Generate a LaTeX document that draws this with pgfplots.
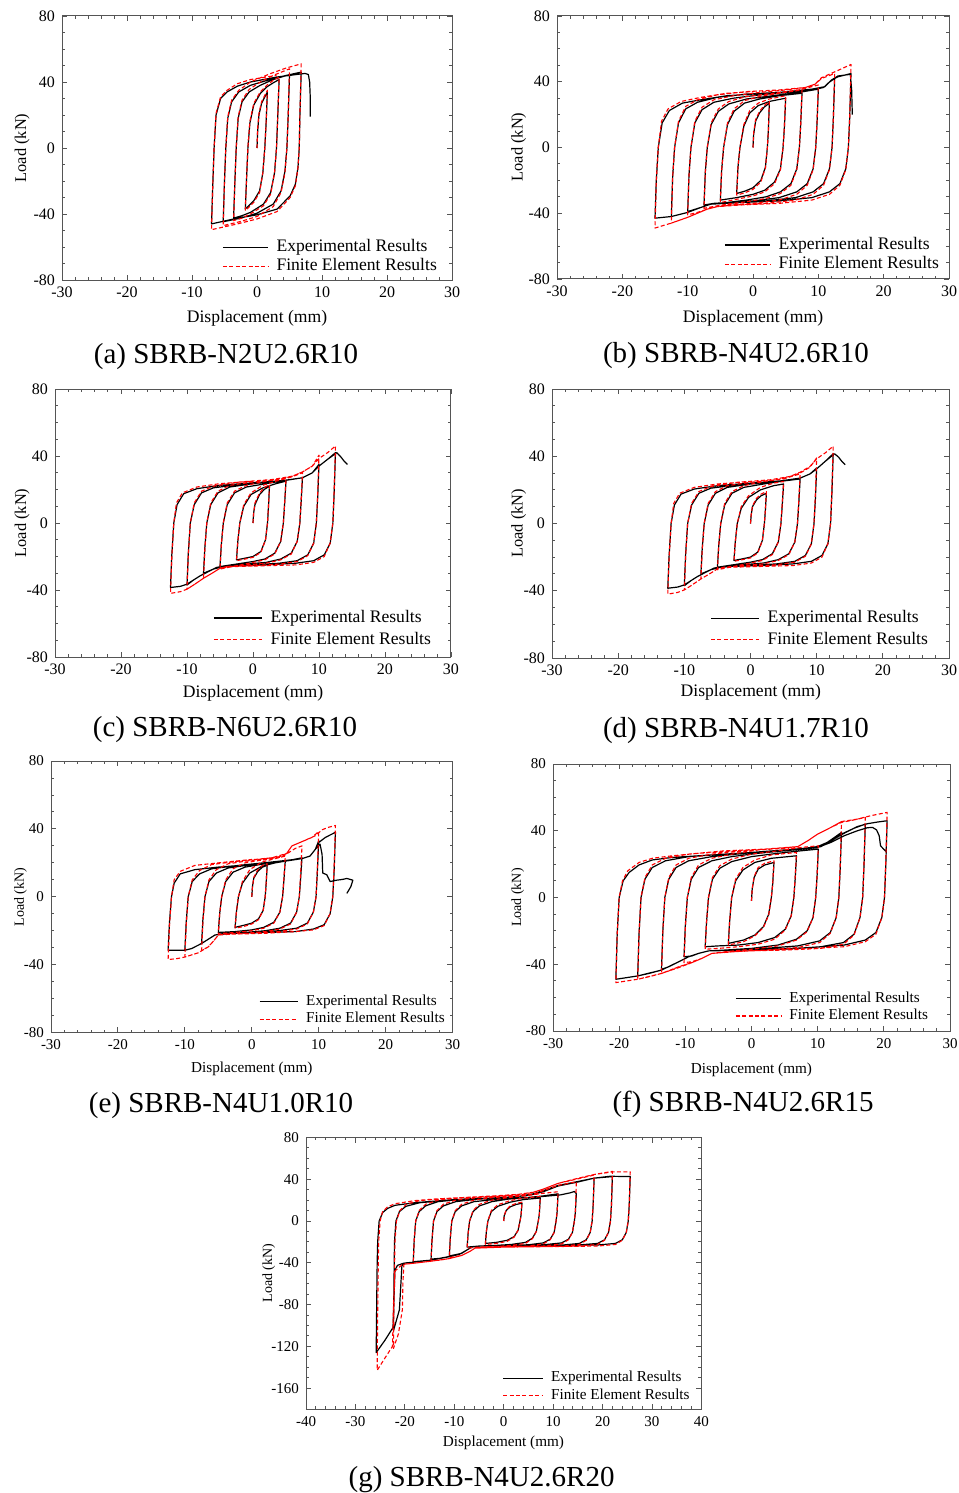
\documentclass[border=0pt]{standalone}
\usepackage{fontspec}
\setmainfont{Liberation Serif}
\usepackage{pgfplots}
\pgfplotsset{compat=1.18}
\definecolor{framegray}{RGB}{85,85,85}
\pgfplotsset{
  hyst/.style={
    scale only axis, anchor=north west,
    xmin=-30,xmax=30,ymin=-80,ymax=80,
    xtick={-30,-20,...,30}, ytick={-80,-40,0,40,80},
    minor x tick num=4, minor y tick num=3,
    axis line style={framegray, line width=0.5pt},
    every tick/.style={framegray, line width=0.45pt},
    major tick length=2.6pt, minor tick length=1.5pt,
    tick align=inside,
    /pgf/number format/assume math mode=true,
    ticklabel style={font=\fontsize{8}{9}\selectfont},
    legend cell align=left,
    legend style={draw=none, fill=none, anchor=south west, inner xsep=0pt, inner ysep=0pt,
      row sep=0pt, nodes={inner sep=1pt, text depth=0.15em},
      /tikz/every odd column/.append style={column sep=3pt},
      font=\fontsize{8.8}{10}\selectfont},
  },
  small/.style={
    ticklabel style={font=\fontsize{7.5}{8.5}\selectfont},
    legend style={font=\fontsize{7.6}{8.6}\selectfont},
  },
  exps/.style={black, line width=0.6pt, line join=round},
  fes/.style={red, line width=0.55pt, dash pattern=on 2pt off 1.2pt, line join=round},
}
\newcommand{\lab}{\fontsize{8.8}{10}\selectfont}
\newcommand{\ylab}{\fontsize{8.2}{10}\selectfont}
\newcommand{\labs}{\fontsize{7.6}{9}\selectfont}
\newcommand{\ylabs}{\fontsize{7}{9}\selectfont}
\newcommand{\capf}{\fontsize{14.5}{16}\selectfont}
\begin{document}
\begin{tikzpicture}
\useasboundingbox (0,0) rectangle (479pt,-746.5pt);
% ---------------- (a)
\begin{axis}[hyst, at={(31pt,-8pt)}, width=195pt, height=132pt,
  legend style={at={(rel axis cs:0.41,0.014)}},
  legend image code/.code={\draw[#1] (0pt,0pt) -- (22.5pt,0pt);}]
\addplot[exps] coordinates {
(0,0)(0.1,10)(0.3,20)(0.7,27)(1.2,31)(1.6,34)
(1.4,15)(1.2,0)(0.9,-15)(0.4,-26)(-0.5,-32)(-1.8,-37)
(-1.6,-18)(-1.4,0)(-1.1,15)(-0.5,26)(0.5,33)(1.5,37)(2.5,39.5)(3.4,41.5)
(3.2,20)(3.0,0)(2.7,-15)(2.1,-27)(1,-34)(-1,-39)(-2.3,-41)(-3.6,-42.5)
(-3.4,-20)(-3.2,0)(-2.9,18)(-2.3,28)(-1.2,34)(0.5,38)(2.5,41.5)(5.0,44.5)
(4.8,20)(4.6,0)(4.3,-14)(3.7,-26)(2.5,-34)(0,-39.5)(-2.5,-42.5)(-5.2,-44.7)
(-5.0,-20)(-4.8,0)(-4.5,18)(-3.9,28)(-2.8,34)(-1,38)(2,41.5)(4.5,44)(6.8,46)
(6.6,20)(6.5,0)(6.3,-12)(5.9,-22)(5.1,-29)(3.1,-37)(0,-40.5)(-3,-42.5)(-7,-46)
(-6.8,-22)(-6.6,0)(-6.3,20)(-5.6,30)(-4.6,34)(-3,37.5)(-1,40)(3,43)(6,44.5)(7.4,45.2)(7.9,44.5)(8.1,40)(8.2,30)(8.2,19)
};
\addlegendentry{Experimental Results}
\addplot[fes] coordinates {
(0,0)(0.1,12)(0.3,21)(0.7,28)(1.2,32)(1.6,35)
(1.4,15)(1.2,0)(0.9,-15)(0.4,-27)(-0.5,-33)(-1.8,-38)
(-1.6,-18)(-1.4,0)(-1.1,16)(-0.5,27)(0.5,34)(1.5,38)(2.5,41)(3.4,43)
(3.2,20)(3.0,0)(2.7,-15)(2.1,-28)(1,-35)(-1,-40)(-2.3,-42.5)(-3.6,-44)
(-3.4,-20)(-3.2,0)(-2.9,19)(-2.3,29)(-1.2,35.5)(0.5,40)(2.5,44)(5.0,48)
(4.8,20)(4.6,0)(4.3,-15)(3.7,-27)(2.5,-35.5)(0,-41.5)(-2.5,-44.5)(-5.2,-47)
(-5.0,-20)(-4.8,0)(-4.5,19)(-3.9,29)(-2.8,35)(-1,40)(2,45)(4.5,48.5)(6.8,51)
(6.6,20)(6.5,0)(6.3,-12)(5.9,-23)(5.1,-30)(3.1,-38.5)(0,-43)(-3,-46)(-7,-49.5)
(-6.8,-22)(-6.6,0)(-6.3,21)(-5.6,31)(-4.6,35)(-3,39)(-1,41.5)(3,44)
};
\addlegendentry{Finite Element Results}
\end{axis}
\node[anchor=base,font=\lab] at (128.5pt,-161pt) {Displacement (mm)};
\node[anchor=base,rotate=90,font=\ylab] at (13pt,-74pt) {Load (kN)};
\node[anchor=base,font=\capf] at (113pt,-181.5pt) {(a) SBRB-N2U2.6R10};
% ---------------- (b)
\begin{axis}[hyst, at={(278.5pt,-8pt)}, width=196pt, height=131.5pt,
  legend style={at={(rel axis cs:0.426,0.018)}},
  legend image code/.code={\draw[#1] (0pt,0pt) -- (22.5pt,0pt);}]
\addplot[exps] coordinates {
(0,0)(0.1,8)(0.4,16)(1,21)(1.7,24.5)(2.5,27)
(2.35,10)(2.2,0)(1.9,-12)(1.2,-20)(0,-24.5)(-1.2,-26.5)(-2.5,-28)
(-2.3,-12)(-2.0,0)(-1.4,13)(-0.5,21)(0.8,25.5)(2.5,28)(5,30)
(4.8,12)(4.6,0)(4.2,-13)(3.3,-21)(1.8,-26)(0,-28.5)(-2.5,-30.5)(-5,-32)
(-4.8,-14)(-4.5,0)(-3.9,14)(-2.9,22)(-1.3,27)(1,29.5)(4,31.5)(7.5,33)
(7.3,14)(7.1,0)(6.7,-13)(5.8,-22)(4.2,-27)(2,-30)(-1,-32)(-4,-33.5)(-6,-34)(-7.5,-35)
(-7.3,-15)(-7.0,0)(-6.4,14)(-5.3,22)(-3.7,26.5)(-1,29.5)(3,31.5)(7,33.5)(10,35.5)
(9.8,15)(9.6,0)(9.2,-13)(8.3,-22)(6.7,-27)(4,-30.5)(0,-32.5)(-4,-33.5)(-6.5,-34.5)(-8,-36.5)(-10,-39)
(-9.8,-17)(-9.5,0)(-8.9,15)(-7.8,23)(-6,27.5)(-3,30)(1,32)(5,33.5)(9,35)(10.8,36.5)(11.6,39.5)(12.5,42)
(12.3,18)(12.1,0)(11.7,-13)(10.8,-22)(9.2,-27)(6.5,-30.5)(2,-32.5)(-3,-33.5)(-6.5,-34.5)(-8,-36.5)(-10,-39.5)(-12.5,-42)
(-12.3,-18)(-12.0,0)(-11.4,15)(-10.3,23.5)(-8.5,27.5)(-5.5,30.5)(-1,32.5)(4,33.5)(9,35.5)(11,37)(12,41)(13,43)(15,45)
(14.8,18)(14.6,0)(14.2,-13)(13.3,-22)(11.7,-27)(9,-30.5)(4,-32.5)(-2,-33.5)(-6.5,-34.5)(-8,-36.5)(-10,-39.5)(-12.5,-42)(-15,-43)
(-14.8,-20)(-14.5,0)(-13.9,15)(-12.8,22.5)(-10.8,27)(-8,29)(-4,31.5)(0,32.5)(5,33.5)(9,35.5)(11,37)(12,41)(13,43.5)(14.9,44.5)(15.1,35)(15.2,20)
};
\addlegendentry{Experimental Results}
\addplot[fes] coordinates {
(0,0)(0.1,9)(0.4,17)(1,22)(1.7,25.5)(2.5,28)
(2.35,10)(2.2,0)(1.9,-12.5)(1.2,-21)(0,-25.5)(-1.2,-27.5)(-2.5,-29)
(-2.3,-12)(-2.0,0)(-1.4,14)(-0.5,22.5)(0.8,27)(2.5,29.5)(5,31.5)
(4.8,12)(4.6,0)(4.2,-13.5)(3.3,-22)(1.8,-27)(0,-29.5)(-2.5,-31.5)(-5,-33.5)
(-4.8,-14)(-4.5,0)(-3.9,15)(-2.9,23.5)(-1.3,28.5)(1,31)(4,33)(7.5,35)
(7.3,14)(7.1,0)(6.7,-13.5)(5.8,-23)(4.2,-28)(2,-31)(-1,-33)(-4,-34.5)(-5.5,-35.5)(-7.5,-37)
(-7.3,-15)(-7.0,0)(-6.4,15)(-5.3,23.5)(-3.7,28)(-1,31)(3,33)(7,35)(8.5,36.5)(10,38)
(9.8,15)(9.6,0)(9.2,-13.5)(8.3,-23)(6.7,-28.5)(4,-32)(0,-34)(-4,-35)(-5.5,-36)(-7,-37.5)(-8.5,-39.5)(-10,-41)
(-9.8,-17)(-9.5,0)(-8.9,16)(-7.8,24.5)(-6,29)(-3,31.5)(1,33.5)(5,35)(8,36.5)(9.5,38.5)(10.5,42)(12.5,45)
(12.3,18)(12.1,0)(11.7,-13.5)(10.8,-23)(9.2,-28.5)(6.5,-32)(2,-34)(-3,-35)(-5.5,-36)(-7,-37.5)(-8.5,-40)(-10,-42.5)(-12.5,-46)
(-12.3,-18)(-12.0,0)(-11.4,16)(-10.3,25)(-8.5,29)(-5.5,32)(-1,34)(4,35)(8,36.5)(9.5,38.5)(10.5,42.5)(12.5,46)(15,50.5)
(14.8,18)(14.6,0)(14.2,-13.5)(13.3,-23)(11.7,-28.5)(9,-32)(4,-34)(-2,-35)(-5.5,-36)(-7,-37.5)(-8.5,-40)(-10,-42.5)(-12.5,-46)(-15,-49)
(-14.8,-20)(-14.5,0)(-14.0,16)(-13.0,23.5)(-11,28)(-8,30.5)(-4,33)(0,34)
};
\addlegendentry{Finite Element Results}
\end{axis}
\node[anchor=base,font=\lab] at (376.5pt,-161pt) {Displacement (mm)};
\node[anchor=base,rotate=90,font=\ylab] at (261.3pt,-73.5pt) {Load (kN)};
\node[anchor=base,font=\capf] at (368pt,-181.3pt) {(b) SBRB-N4U2.6R10};
% ---------------- (c)
\begin{axis}[hyst, at={(27.5pt,-194.5pt)}, width=198pt, height=134pt,
  legend style={at={(rel axis cs:0.399,0.028)}, row sep=1.2pt},
  legend image code/.code={\draw[#1] (0pt,0pt) -- (24pt,0pt);}]
\addplot[exps] coordinates {
(0,0)(0.1,6)(0.3,11)(1,17)(1.7,20)(2.5,22)
(2.35,10)(2.2,0)(1.9,-10)(1.2,-17)(0,-20)(-1.2,-21)(-2.5,-22)
(-2.3,-11)(-2.0,0)(-1.4,10)(-0.3,17)(1.5,21)(3.5,23.5)(5,25)
(4.8,12)(4.6,0)(4.2,-11)(3.3,-18)(1.8,-21.5)(0,-23)(-2.5,-24.5)(-5,-26)
(-4.8,-13)(-4.5,0)(-3.9,11)(-2.8,18)(-1,21.5)(2,23.5)(5,25.5)(7.5,27)
(7.3,13)(7.1,0)(6.7,-11)(5.8,-18)(4.2,-21.5)(2,-23.5)(-1,-24.5)(-4,-25.5)(-6,-27.5)(-7.5,-30)
(-7.3,-15)(-7.0,0)(-6.4,11)(-5.3,18)(-3.5,21.5)(0,23.5)(4,25)(7.5,27)(9,30)(10,35)
(9.8,15)(9.6,0)(9.2,-12)(8.3,-19)(6.7,-22.5)(4,-24)(0,-25)(-4,-25.5)(-5.5,-26.5)(-6.5,-28.5)(-8,-31.5)(-9,-34)(-10,-37)
(-9.8,-18)(-9.5,0)(-8.9,11)(-7.8,18)(-6,21)(-2,23)(3,24.5)(7.5,27)(9,30)(10,34)(11.3,38)(12.5,42)
(12.3,18)(12.1,0)(11.7,-12)(10.8,-19)(9.2,-22.5)(6.5,-24)(2,-25)(-3,-25.5)(-5.5,-26.5)(-6.5,-28.5)(-8,-31.5)(-9,-34)(-10,-36.5)(-11,-37.8)(-12.5,-38.5)
(-12.3,-19)(-12.0,0)(-11.5,11)(-10.5,17.5)(-8.5,20.5)(-5,22.5)(0,24)(5,25.5)(7.5,27)(9,30)(10,34)(11.3,38)(12.7,42)(13.3,39.5)(13.8,37)(14.3,35)
};
\addlegendentry{Experimental Results}
\addplot[fes] coordinates {
(0,0)(0.1,6)(0.3,12)(1,18)(1.7,21)(2.5,23)
(2.35,10)(2.2,0)(1.9,-10)(1.2,-17.5)(0,-20.5)(-1.2,-21.5)(-2.5,-22.5)
(-2.3,-11)(-2.0,0)(-1.4,11)(-0.3,18)(1.5,22.5)(3.5,25)(5,26.5)
(4.8,12)(4.6,0)(4.2,-11)(3.3,-18.5)(1.8,-22)(0,-23.5)(-2.5,-25.5)(-5,-27.5)
(-4.8,-13)(-4.5,0)(-3.9,12)(-2.8,19)(-1,22.5)(2,25)(5,26.5)(6.2,28)(7.5,30)
(7.3,14)(7.1,0)(6.7,-11)(5.8,-18.5)(4.2,-22)(2,-24)(-1,-25)(-4,-26)(-5,-27)(-6,-29.5)(-7.5,-33)
(-7.3,-16)(-7.0,0)(-6.4,12)(-5.3,19)(-3.5,22.5)(0,24.5)(4,26)(6,28)(7.5,30.5)(9,34)(10,40.5)
(9.8,17)(9.6,0)(9.2,-12)(8.3,-19.5)(6.7,-23)(4,-24.5)(0,-25.5)(-4,-26)(-5,-27)(-6,-29.5)(-7.5,-33)(-9,-37)(-10,-39.5)
(-9.8,-19)(-9.5,0)(-8.9,12)(-7.8,19)(-6,22)(-2,24.5)(3,26)(6,28)(7.5,30.5)(9,34)(10,38.5)(11.3,42)(12.5,46)
(12.3,20)(12.1,0)(11.7,-12)(10.8,-20)(9.2,-23.5)(6.5,-25)(2,-25.5)(-3,-26)(-5,-27)(-6,-29.5)(-7.5,-33)(-9,-37)(-10,-39.5)(-11,-41)(-12.5,-42)
(-12.3,-20)(-12.0,0)(-11.6,12)(-10.7,18)(-8.5,21.5)(-5,23.5)(0,25)
};
\addlegendentry{Finite Element Results}
\end{axis}
\node[anchor=base,font=\lab] at (126.5pt,-348.5pt) {Displacement (mm)};
\node[anchor=base,rotate=90,font=\ylab] at (13pt,-261.5pt) {Load (kN)};
\node[anchor=base,font=\capf] at (112.5pt,-368pt) {(c) SBRB-N6U2.6R10};
% ---------------- (d)
\begin{axis}[hyst, at={(276pt,-194.5pt)}, width=198.5pt, height=134.5pt,
  legend style={at={(rel axis cs:0.398,0.030)}, row sep=1.2pt},
  legend image code/.code={\draw[#1] (0pt,0pt) -- (24pt,0pt);}]
\addplot[exps] coordinates {
(0,0)(0.1,5)(0.3,10)(0.9,14)(1.6,16.5)(2.4,18)
(2.25,8)(2.1,0)(1.8,-10)(1.1,-17)(0,-20)(-1.2,-21)(-2.5,-22)
(-2.3,-11)(-2.0,0)(-1.4,9)(-0.3,15.5)(1.5,20)(3.5,22.5)(5,23.5)
(4.8,11)(4.6,0)(4.2,-11)(3.3,-18)(1.8,-21.5)(0,-23)(-2.5,-24.5)(-5,-26)
(-4.8,-13)(-4.5,0)(-3.9,11)(-2.8,18)(-1,21.5)(2,23.5)(5,25.3)(7.5,26.5)
(7.3,12)(7.1,0)(6.7,-11)(5.8,-18)(4.2,-21.5)(2,-23.5)(-1,-24.5)(-4,-25.5)(-6,-27.5)(-7.5,-30)
(-7.3,-15)(-7.0,0)(-6.4,11)(-5.3,18)(-3.5,21.5)(0,23.5)(4,25)(7.5,27)(9,29.5)(10,33)
(9.8,14)(9.6,0)(9.2,-12)(8.3,-19)(6.7,-22.5)(4,-24)(0,-25)(-4,-25.5)(-5.5,-26.5)(-6.5,-28.5)(-8,-31.5)(-9,-34)(-10,-37)
(-9.8,-18)(-9.5,0)(-8.9,11)(-7.8,18)(-6,21)(-2,23)(3,24.5)(7.5,27)(9,29.5)(10,32.5)(11.3,37)(12.5,41.5)
(12.3,18)(12.1,0)(11.7,-12)(10.8,-19)(9.2,-22.5)(6.5,-24)(2,-25)(-3,-25.5)(-5.5,-26.5)(-6.5,-28.5)(-8,-31.5)(-9,-34)(-10,-36.5)(-11,-37.8)(-12.5,-38.5)
(-12.3,-19)(-12.0,0)(-11.5,11)(-10.5,17.5)(-8.5,20.5)(-5,22.5)(0,24)(5,25.5)(7.5,27)(9,29.5)(10,32.5)(11.3,37)(12.7,41.5)(13.3,39.5)(13.8,37)(14.3,35)
};
\addlegendentry{Experimental Results}
\addplot[fes] coordinates {
(0,0)(0.1,5)(0.3,10.5)(0.9,15)(1.6,17.5)(2.4,19)
(2.25,8)(2.1,0)(1.8,-10)(1.1,-17.5)(0,-20.5)(-1.2,-21.5)(-2.5,-22.5)
(-2.3,-11)(-2.0,0)(-1.4,10)(-0.3,16.5)(1.5,21.5)(3.5,24)(5,25)
(4.8,12)(4.6,0)(4.2,-11)(3.3,-18.5)(1.8,-22)(0,-23.5)(-2.5,-25.5)(-5,-27.5)
(-4.8,-13)(-4.5,0)(-3.9,12)(-2.8,19)(-1,22.5)(2,25)(5,26.5)(6.2,28)(7.5,29.5)
(7.3,14)(7.1,0)(6.7,-11)(5.8,-18.5)(4.2,-22)(2,-24)(-1,-25)(-4,-26)(-5,-27)(-6,-29.5)(-7.5,-33)
(-7.3,-16)(-7.0,0)(-6.4,12)(-5.3,19)(-3.5,22.5)(0,24.5)(4,26)(6,28)(7.5,30)(9,33.5)(10,39)
(9.8,17)(9.6,0)(9.2,-12)(8.3,-19.5)(6.7,-23)(4,-24.5)(0,-25.5)(-4,-26)(-5,-27)(-6,-29.5)(-7.5,-33)(-9,-37)(-10,-39.5)
(-9.8,-19)(-9.5,0)(-8.9,12)(-7.8,19)(-6,22)(-2,24.5)(3,26)(6,28)(7.5,30.5)(9,34)(10,38.5)(11.3,42)(12.5,46)
(12.3,20)(12.1,0)(11.7,-12)(10.8,-20)(9.2,-23.5)(6.5,-25)(2,-25.5)(-3,-26)(-5,-27)(-6,-29.5)(-7.5,-33)(-9,-37)(-10,-39.5)(-11,-41)(-12.5,-42)
(-12.3,-20)(-12.0,0)(-11.6,12)(-10.7,18)(-8.5,21.5)(-5,23.5)(0,25)
};
\addlegendentry{Finite Element Results}
\end{axis}
\node[anchor=base,font=\lab] at (375.4pt,-348.3pt) {Displacement (mm)};
\node[anchor=base,rotate=90,font=\ylab] at (261.3pt,-261.7pt) {Load (kN)};
\node[anchor=base,font=\capf] at (368pt,-368.5pt) {(d) SBRB-N4U1.7R10};
% ---------------- (e)
\begin{axis}[hyst, small, at={(25.5pt,-380.5pt)}, width=200.8pt, height=135.8pt,
  legend style={at={(rel axis cs:0.517,0.016)}},
  legend image code/.code={\draw[#1] (0pt,0pt) -- (19pt,0pt);}]
\addplot[exps] coordinates {
(0,0)(0.1,6)(0.3,11)(0.9,15)(1.6,17.5)(2.3,18.5)
(2.15,8)(2.0,0)(1.7,-8)(1.0,-13)(0,-15.5)(-1.2,-16.8)(-2.5,-18)
(-2.3,-9)(-2.0,0)(-1.4,8)(-0.3,14)(1.5,18)(3.5,20)(5,21)
(4.8,10)(4.6,0)(4.2,-9)(3.3,-15)(1.8,-18)(0,-19.5)(-2.5,-20.5)(-5,-21)
(-4.8,-10)(-4.5,0)(-3.9,9)(-2.8,14.5)(-1,17.5)(2,19.5)(5,21)(7.5,23)
(7.3,11)(7.1,0)(6.7,-9)(5.8,-15.5)(4.2,-18.5)(2,-20)(-1,-21)(-4,-21.5)(-5.5,-22.5)(-6.5,-25)(-7.5,-27.5)
(-7.3,-13)(-7.0,0)(-6.4,9)(-5.3,14)(-3.5,17)(0,19)(4,20.5)(7.5,22.5)(8.7,24)(9.5,28)(10,33)
(9.8,15)(9.6,0)(9.2,-9)(8.3,-15.5)(6.7,-18.5)(4,-20)(0,-21)(-4,-21.5)(-5.5,-22.5)(-6.5,-25)(-7.5,-27.5)(-9,-30.5)(-10,-31.5)
(-9.8,-15)(-9.5,0)(-8.9,9)(-7.8,13.5)(-6,16.5)(-2,18.5)(3,20.5)(7.5,22.5)(8.7,24)(9.5,28)(10,32)(11,35)(12.5,38)
(12.3,15)(12.1,0)(11.7,-10)(10.8,-16.5)(9.2,-19)(6.5,-20.5)(2,-21)(-3,-21.5)(-5.5,-22.5)(-6.5,-25)(-7.5,-27.5)(-9,-30.5)(-10,-31.5)(-12.5,-31.5)
(-12.3,-15)(-12.0,0)(-11.6,8)(-10.7,13.5)(-8.5,16)(-5,17.5)(0,19)(5,21)(7.5,22.5)(8.7,24)(9.5,28)(10.2,31)(10.5,25)(10.6,14)(11.2,13)(11.7,9)(12.7,9.8)(13.5,10.2)(14.2,10.8)(15.1,9.8)(14.8,6)(14.2,2)
};
\addlegendentry{Experimental Results}
\addplot[fes] coordinates {
(0,0)(0.1,6)(0.3,11.5)(0.9,16)(1.6,18.5)(2.3,19.5)
(2.15,8)(2.0,0)(1.7,-8)(1.0,-13.5)(0,-16)(-1.2,-17.5)(-2.5,-18.5)
(-2.3,-9)(-2.0,0)(-1.4,9)(-0.3,16)(1.5,20.5)(3.5,22.5)(5,24)
(4.8,11)(4.6,0)(4.2,-9)(3.3,-15.5)(1.8,-18.5)(0,-20)(-2.5,-21)(-4.2,-21.5)(-5,-22)
(-4.8,-10)(-4.5,0)(-3.9,10)(-2.8,16.5)(-1,20)(2,22)(4.5,23.5)(5.5,26)(6.5,28.5)(7.5,30)
(7.3,14)(7.1,0)(6.7,-9)(5.8,-16)(4.2,-19)(2,-20.5)(-1,-21.5)(-4,-22)(-5,-22.5)(-5.7,-26)(-6.5,-29.5)(-7.5,-31.5)
(-7.3,-15)(-7.0,0)(-6.4,10)(-5.3,16)(-3.5,19.5)(0,21.5)(4,23.5)(5.2,25.5)(6,30)(7.5,32.5)(9,35)(10,38.5)
(9.8,17)(9.6,0)(9.2,-9)(8.3,-16)(6.7,-19)(4,-20.5)(0,-21.5)(-4,-22)(-5,-22.5)(-5.7,-26)(-6.5,-29.5)(-8,-33)(-10,-35.5)
(-9.8,-17)(-9.5,0)(-8.9,10)(-7.8,15.5)(-6,19)(-2,21)(3,23)(5.2,25.5)(6,30)(7.5,32.5)(9.5,36)(10.5,39.5)(11.5,41)(12.5,42)
(12.3,17)(12.1,0)(11.7,-10)(10.8,-17)(9.2,-19.5)(6.5,-20.5)(2,-21.5)(-3,-22)(-5,-22.5)(-5.7,-26)(-6.5,-29.5)(-8,-33)(-10,-35.5)(-11,-36.3)(-12.5,-37)
(-12.3,-17)(-12.0,0)(-11.6,10)(-10.7,15)(-8.5,18.5)(-5,20)(0,22)
};
\addlegendentry{Finite Element Results}
\end{axis}
\node[anchor=base,font=\labs] at (125.9pt,-536.3pt) {Displacement (mm)};
\node[anchor=base,rotate=90,font=\ylabs] at (12pt,-448.5pt) {Load (kN)};
\node[anchor=base,font=\capf] at (110.5pt,-556.3pt) {(e) SBRB-N4U1.0R10};
% ---------------- (f)
\begin{axis}[hyst, small, at={(276.5pt,-382pt)}, width=198.5pt, height=133.5pt,
  legend style={at={(rel axis cs:0.458,0.022)}},
  legend image code/.code={\draw[#1] (0pt,0pt) -- (22.5pt,0pt);}]
\addplot[exps] coordinates {
(0,-2)(0.1,5)(0.4,12)(1,17)(2,19.5)(3.4,21)
(3.2,8)(3.0,0)(2.6,-10)(1.8,-17.5)(0.5,-22.5)(-1.2,-25.5)(-3.5,-27.5)
(-3.3,-14)(-3.0,0)(-2.4,10)(-1.3,16.5)(0.5,21)(3,23.5)(6.8,25)
(6.6,11)(6.4,0)(6.0,-11)(5.1,-19)(3.5,-24)(1,-27)(-2,-28.5)(-5,-29)(-7,-29.5)
(-6.8,-15)(-6.5,0)(-5.9,11)(-4.8,17.5)(-3,21.5)(0,24.5)(4,26.5)(7.5,28)(10.1,29)
(9.9,12)(9.7,0)(9.3,-12)(8.4,-20)(6.8,-25)(4,-28.5)(0,-30.5)(-4,-31.5)(-6.5,-32)(-8,-33.5)(-9,-35)(-10.2,-35.5)
(-10.0,-17)(-9.7,0)(-9.1,11)(-8,18)(-6,22)(-3,24.5)(1,26.5)(5,28)(9,29.5)(10.5,30.5)(12,34.5)(13.6,39)
(13.4,17)(13.2,0)(12.8,-12)(11.9,-21)(10.3,-26)(7,-29)(2,-30.5)(-3,-31.5)(-6.5,-32)(-8,-33.5)(-9.5,-35.5)(-11,-38.5)(-12.5,-41.5)(-13.6,-43)
(-13.4,-20)(-13.1,0)(-12.5,11)(-11.4,18)(-9.5,22)(-6,24.5)(-1,26.5)(4,28)(9,29.5)(10.5,30.5)(12,34)(13.6,38)(15.5,41.5)(17.2,44)
(17.0,19)(16.8,0)(16.4,-12)(15.5,-22)(13.9,-27)(10.5,-29.5)(5,-31)(-1,-31.5)(-6.5,-32)(-8,-33.5)(-9.5,-35.5)(-11,-38.5)(-13.6,-43.5)(-15.5,-45.5)(-17.2,-47)
(-17.0,-22)(-16.7,0)(-16.1,11)(-15,18)(-13,22)(-9.5,24.5)(-4,26)(2,27.5)(8,29.5)(10,30.5)(12,34)(14,38.5)(16,42.5)(17.5,44.2)(19,45.2)(20.5,46)
(20.3,20)(20.1,0)(19.7,-12)(18.8,-21)(17.2,-25.5)(14,-28.5)(9,-30)(3,-31)(-3,-31.5)(-6.5,-32)(-8,-33.5)(-9.5,-35.5)(-11,-38.5)(-13.6,-43.5)(-17.2,-47)(-20.5,-49)
(-20.3,-22)(-20.0,0)(-19.4,10)(-18.5,15)(-17,19.5)(-15,22.5)(-12,24)(-8,25)(-4,26)(0,27)(5,28.5)(9,29.5)(10,30)(12,33)(14,37)(16,40)(17.5,41.8)(18.3,42)(18.9,40.5)(19.3,37)(19.5,31)(20.2,28)(20.4,27.5)
};
\addlegendentry{Experimental Results}
\addplot[fes] coordinates {
(0,-2)(0.1,5)(0.4,12.5)(1,18)(2,20.5)(3.4,22)
(3.2,8)(3.0,0)(2.6,-10.5)(1.8,-18)(0.5,-23)(-1.2,-26.5)(-3.5,-28.5)
(-3.3,-14)(-3.0,0)(-2.4,11)(-1.3,18)(0.5,22.5)(3,25.5)(6.8,27)
(6.6,12)(6.4,0)(6.0,-11)(5.1,-19.5)(3.5,-25)(1,-28)(-2,-29.5)(-5,-30.5)(-7,-31)
(-6.8,-15)(-6.5,0)(-5.9,12)(-4.8,19)(-3,23)(0,26)(4,28)(7.5,30)(10.1,31)
(9.9,12)(9.7,0)(9.3,-12)(8.4,-20.5)(6.8,-25.5)(4,-29)(0,-31)(-4,-32.5)(-6,-33.5)(-7.5,-36.5)(-9,-38.5)(-10.2,-39)
(-10.0,-18)(-9.7,0)(-9.1,12)(-8,19.5)(-6,23.5)(-3,26)(1,28.5)(5,29.5)(7,30.5)(8.5,34)(10,38)(12,42)(13.6,45.5)
(13.4,18)(13.2,0)(12.8,-12)(11.9,-21.5)(10.3,-27)(7,-30)(2,-31.5)(-3,-32.5)(-6,-33.5)(-7.5,-36.5)(-9,-39)(-11,-41.5)(-12.5,-44)(-13.6,-45.5)
(-13.4,-20)(-13.1,0)(-12.5,12)(-11.4,19.5)(-9.5,23.5)(-6,26)(-1,28)(4,29.5)(7,30.5)(8.5,34)(10,38)(12,42)(13.6,45)(15.5,46.5)(17.2,48)
(17.0,20)(16.8,0)(16.4,-12)(15.5,-22.5)(13.9,-28)(10.5,-30.5)(5,-31.5)(-1,-32)(-6,-33.5)(-7.5,-36.5)(-9,-39)(-11,-41.5)(-13.6,-45.5)(-15.5,-47.5)(-17.2,-49)
(-17.0,-22)(-16.7,0)(-16.1,12)(-15,19.5)(-13,23.5)(-9.5,26)(-4,28)(2,29)(7,30.5)(8.5,34)(10,38)(12,42)(13.6,45.5)(16,47)(18,49)(20.5,51)
(20.3,22)(20.1,0)(19.7,-12)(18.8,-22)(17.2,-26.5)(14,-29.5)(9,-30.5)(3,-31.5)(-3,-32.5)(-6,-33.5)(-7.5,-36.5)(-9,-39)(-11,-42)(-13.6,-45.5)(-17.2,-49)(-20.5,-51)
(-20.3,-22)(-20.0,0)(-19.5,10)(-18.7,16)(-17,21)(-15,23.5)(-12,25)(-8,26.5)(-4,27.5)(0,28.5)
};
\addlegendentry{Finite Element Results}
\end{axis}
\node[anchor=base,font=\labs] at (375.7pt,-536.7pt) {Displacement (mm)};
\node[anchor=base,rotate=90,font=\ylabs] at (260.5pt,-448.8pt) {Load (kN)};
\node[anchor=base,font=\capf] at (371.5pt,-555.8pt) {(f) SBRB-N4U2.6R15};
% ---------------- (g)
\begin{axis}[hyst, small, at={(153pt,-568.7pt)}, width=197.7pt, height=135.8pt,
  xmin=-40, xmax=40, xtick={-40,-30,...,40}, ymin=-180, ymax=80, ytick={-160,-120,...,80},
  legend style={at={(rel axis cs:0.496,0.015)}},
  legend image code/.code={\draw[#1] (0pt,0pt) -- (19.7pt,0pt);}]
\addplot[exps] coordinates {
(0,0)(0.1,5)(0.5,10)(1.3,13.5)(2.5,15.8)(3.7,17)
(3.5,5)(3.3,0)(2.9,-9)(2.1,-15)(0.7,-18.5)(-1.5,-20.5)(-3.7,-21.5)
(-3.5,-10)(-3.2,0)(-2.5,9)(-1.2,14)(1.3,18)(4,20.5)(7.4,22)
(7.2,6)(7.0,0)(6.6,-10)(5.8,-16.5)(4.4,-20.5)(1.5,-22.5)(-2,-23.5)(-5,-24)(-7.4,-25)
(-7.2,-12)(-6.9,0)(-6.2,9)(-4.9,14.5)(-2.4,18.5)(1,21)(5,22.5)(8,24)(11,26)
(10.8,8)(10.6,0)(10.2,-11)(9.4,-17.5)(8,-21)(5,-22.8)(0,-23.3)(-4,-23.8)(-6.2,-24.5)(-7.2,-27)(-8.5,-31)(-11,-33.5)
(-10.8,-16)(-10.5,0)(-9.8,9)(-8.5,14.5)(-6,18.5)(-2,20.5)(3,22)(8,23.5)(11.5,25)(13.5,27)(14.3,28.3)(14.7,26)
(14.5,8)(14.3,0)(13.9,-11)(13.1,-17.5)(11.7,-21)(8,-22.8)(2,-23.3)(-4,-23.8)(-6.2,-24.5)(-7.2,-27)(-8.5,-31)(-11,-34)(-13,-35.8)(-14.7,-36.5)
(-14.5,-18)(-14.2,0)(-13.5,9)(-12.2,14.5)(-9.7,18.5)(-5,21)(0,22.5)(4,24)(6,25.5)(8,28)(11,33.5)(14.7,37)(18.3,41)
(18.1,15)(17.9,0)(17.5,-11)(16.7,-18)(15.3,-21.5)(12,-23)(5,-23.3)(-2,-23.5)(-5,-24)(-6.5,-25)(-7.5,-28)(-9,-32)(-11,-34.2)(-14.7,-37.5)(-18.3,-39)
(-18.1,-18)(-17.8,0)(-17.1,9)(-15.8,14.5)(-13.3,18.5)(-8,21)(-2,22)(3,23.5)(6,26)(8,29)(11,34)(14.7,37.5)(18.3,41)(22,42.5)
(21.8,15)(21.6,0)(21.2,-11)(20.4,-18)(19,-21.5)(15,-23)(8,-23.3)(0,-23.5)(-5,-24)(-6.5,-25)(-7.5,-28)(-9,-32)(-11,-34.2)(-14.7,-37.5)(-18.3,-39.5)(-20,-40.2)(-20.6,-43)(-20.8,-60)(-21.1,-85)(-22.3,-105)
(-22.2,-60)(-22.1,-20)(-21.8,0)(-21.1,9)(-19.8,14)(-17,17.5)(-12,19.5)(-5,21)(0,22)(3,23.5)(6,26)(8,29)(11,34)(14.7,37.5)(18.3,41)(21.5,42.8)(25.6,42.5)
(25.4,15)(25.2,0)(24.8,-11)(24,-18)(22.6,-21.5)(19,-23)(10,-23.3)(0,-23.5)(-5,-24)(-6.5,-25)(-7.5,-28)(-9,-32)(-11,-34.2)(-14.7,-37.5)(-18.3,-39.5)(-20.3,-40.5)(-21.5,-42.5)(-22,-47)(-22.2,-75)(-22.4,-102)(-24,-114)(-25.8,-126)
(-25.7,-80)(-25.6,-40)(-25.5,-20)(-25.2,0)(-24.5,8)(-23.5,12)(-22,15)(-18,17.5)(-14,19)(-10,20.5)(-5,21.5)(0,22.5)
};
\addlegendentry{Experimental Results}
\addplot[fes] coordinates {
(0,0)(0.1,5)(0.5,10.5)(1.3,14.5)(2.5,16.8)(3.7,18)
(3.5,5)(3.3,0)(2.9,-9)(2.1,-15.5)(0.7,-19.5)(-1.5,-21.5)(-3.7,-22.5)
(-3.5,-10)(-3.2,0)(-2.5,10)(-1.2,15.5)(1.3,19.5)(4,22)(7.4,23.5)
(7.2,6)(7.0,0)(6.6,-10)(5.8,-17)(4.4,-21.5)(1.5,-23.5)(-2,-24.5)(-5,-25)(-7.4,-26)
(-7.2,-12)(-6.9,0)(-6.2,10)(-4.9,16)(-2.4,20)(1,22.5)(5,24.5)(8,26.5)(11,28)
(10.8,8)(10.6,0)(10.2,-11)(9.4,-18)(8,-22)(5,-24)(0,-24.5)(-4,-25)(-5.8,-26)(-6.8,-29)(-8.5,-33)(-11,-35)
(-10.8,-16)(-10.5,0)(-9.8,10)(-8.5,16)(-6,20)(-2,22.5)(3,24)(6,25.5)(8,29)(11,34)(14.7,37.5)
(14.5,10)(14.3,0)(13.9,-11)(13.1,-18)(11.7,-22)(8,-24)(2,-24.5)(-4,-25)(-5.8,-26)(-6.8,-29)(-8.5,-33)(-11,-36)(-13,-37.5)(-14.7,-38)
(-14.5,-18)(-14.2,0)(-13.5,10)(-12.2,16)(-9.7,20)(-5,22.5)(0,24)(4,25.5)(6,27.5)(8,30.5)(11,36)(14.7,40)(18.3,44)
(18.1,15)(17.9,0)(17.5,-11)(16.7,-18.5)(15.3,-22.5)(12,-24)(5,-24.5)(-2,-25)(-5.8,-26)(-6.8,-29)(-8.5,-33)(-11,-36)(-14.7,-38.5)(-18.3,-40.5)
(-18.1,-18)(-17.8,0)(-17.1,10)(-15.8,16)(-13.3,20)(-8,22.5)(-2,24)(3,25.5)(6,27.5)(8,30.5)(11,36)(14.7,40.5)(18.3,44.5)(22,47.5)
(21.8,15)(21.6,0)(21.2,-11)(20.4,-18.5)(19,-22.5)(15,-24)(8,-24.5)(0,-25)(-5.8,-26)(-6.8,-29)(-8.5,-33)(-11,-36)(-14.7,-38.5)(-18.3,-40.5)(-20.2,-41.5)(-20.4,-60)(-20.5,-85)(-21.3,-108)(-22.3,-122)
(-22.2,-80)(-22.1,-51)(-22.0,-20)(-21.7,0)(-21,10)(-19.7,16)(-17,19.5)(-12,21.5)(-5,23)(0,24)(3,25.5)(6,27.5)(8,30.5)(11,36)(14.7,40.5)(18.3,44.5)(22,47)(25.6,47)
(25.4,15)(25.2,0)(24.8,-11)(24,-18.5)(22.6,-22.5)(19,-24)(10,-24.5)(0,-25)(-5.8,-26)(-6.8,-29)(-8.5,-33)(-11,-36)(-14.7,-38.5)(-18.3,-40.5)(-20.5,-41.5)(-22,-48)(-22.3,-80)(-22.5,-120)(-24,-131)(-25.6,-143)
(-25.5,-90)(-25.4,-50)(-25.3,-20)(-25.0,0)(-24.5,9)(-23.5,13.5)(-22,16.5)(-18,19.5)(-14,21)(-10,22)(-5,23)(0,24)
};
\addlegendentry{Finite Element Results}
\end{axis}
\node[anchor=base,font=\labs] at (251.7pt,-723.3pt) {Displacement (mm)};
\node[anchor=base,rotate=90,font=\ylabs] at (136pt,-636.5pt) {Load (kN)};
\node[anchor=base,font=\capf] at (240.8pt,-743pt) {(g) SBRB-N4U2.6R20};
\end{tikzpicture}
\end{document}
